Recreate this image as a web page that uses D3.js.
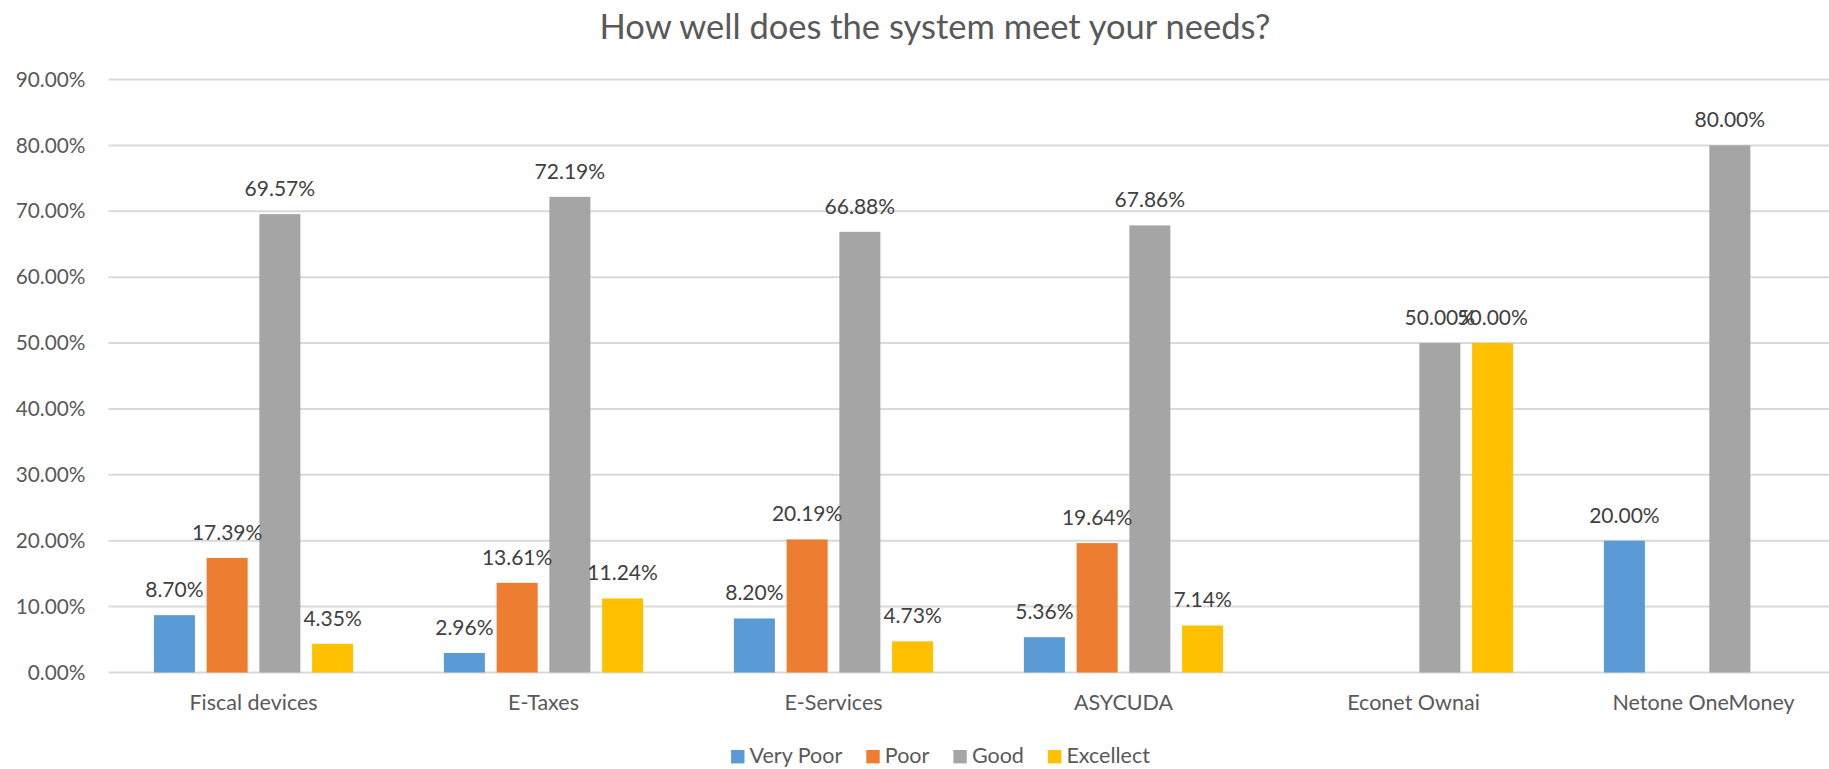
<!DOCTYPE html>
<html>
<head>
<meta charset="utf-8">
<script src="https://cdn.jsdelivr.net/npm/d3@7"></script>
<style>
  html, body { margin: 0; padding: 0; background: #ffffff; }
  svg { display: block; font-family: Lato, "Open Sans", sans-serif; }
</style>
</head>
<body>
<svg id="chart" width="1829" height="769"></svg>
<script>
// ---- data ----
const title = "How well does the system meet your needs?";
const categories = ["Fiscal devices", "E-Taxes", "E-Services", "ASYCUDA", "Econet Ownai", "Netone OneMoney"];
const seriesNames = ["Very Poor", "Poor", "Good", "Excellect"];
const veryPoor  = [8.70, 2.96, 8.20, 5.36, null, 20.00];
const poor      = [17.39, 13.61, 20.19, 19.64, null, null];
const good      = [69.57, 72.19, 66.88, 67.86, 50.00, 80.00];
const excellent = [4.35, 11.24, 4.73, 7.14, 50.00, null];
const yTicks    = [0, 10, 20, 30, 40, 50, 60, 70, 80, 90];
const colors    = ["#5B9BD5", "#ED7D31", "#A5A5A5", "#FFC000"];

const seriesValues = [veryPoor, poor, good, excellent];

// ---- layout ----
const W = 1829, H = 769;
const plot = { left: 108.5, top: 79.5, bottom: 672.5, catWidth: 290 };

const svg = d3.select("#chart");

const y = d3.scaleLinear().domain([0, 90]).range([plot.bottom, plot.top]);
const x0 = d3.scaleBand().domain(categories)
  .range([plot.left, plot.left + plot.catWidth * categories.length])
  .paddingInner(0).paddingOuter(0);
const groupW = x0.bandwidth() * 0.687;
const x1 = d3.scaleBand().domain(seriesNames)
  .range([0, groupW]).paddingInner(0.222).paddingOuter(0);
const groupOffset = (x0.bandwidth() - groupW) / 2;

// title
svg.append("text")
  .attr("x", 935).attr("y", 39)
  .attr("text-anchor", "middle")
  .attr("fill", "#595959")
  .style("font-size", "34.5px")
  .text(title);

// gridlines
const grid = svg.append("g").attr("class", "grid");
grid.selectAll("line").data(yTicks).join("line")
  .attr("x1", plot.left).attr("x2", W)
  .attr("y1", d => y(d)).attr("y2", d => y(d))
  .attr("stroke", "#D9D9D9").attr("stroke-width", 2);

// y axis labels
const yAxis = d3.axisLeft(y).tickValues(yTicks)
  .tickFormat(d => d.toFixed(2) + "%").tickSize(0).tickPadding(23);
const gy = svg.append("g").attr("transform", `translate(${plot.left},0)`).call(yAxis);
gy.select(".domain").remove();
gy.selectAll("text").attr("fill", "#595959").style("font-size", "20.8px")
  .style("font-family", "Lato, 'Open Sans', sans-serif");

// bars
const rows = [];
seriesValues.forEach((vals, si) => {
  vals.forEach((v, ci) => {
    if (v !== null) rows.push({ s: seriesNames[si], si, c: categories[ci], v });
  });
});

const barsG = svg.append("g");
barsG.selectAll("rect").data(rows).join("rect")
  .attr("x", d => x0(d.c) + groupOffset + x1(d.s))
  .attr("width", x1.bandwidth())
  .attr("y", d => y(d.v))
  .attr("height", d => y(0) - y(d.v))
  .attr("fill", d => colors[d.si]);

// data labels
barsG.selectAll("text").data(rows).join("text")
  .attr("x", d => x0(d.c) + groupOffset + x1(d.s) + x1.bandwidth() / 2)
  .attr("y", d => y(d.v) - 18)
  .attr("text-anchor", "middle")
  .attr("fill", "#404040")
  .style("font-size", "21px")
  .text(d => d.v.toFixed(2) + "%");

// category axis labels
const xAxis = d3.axisBottom(x0).tickSize(0).tickPadding(0);
const gx = svg.append("g").attr("transform", `translate(0,${plot.bottom})`).call(xAxis);
gx.select(".domain").remove();
gx.selectAll("text").attr("fill", "#595959").style("font-size", "21.5px")
  .style("font-family", "Lato, 'Open Sans', sans-serif")
  .attr("dy", null).attr("y", 37.5);

// legend
const legend = svg.append("g");
const items = legend.selectAll("g").data(seriesNames).join("g");
items.append("rect").attr("width", 13.4).attr("height", 13.4)
  .attr("y", 750).attr("fill", (d, i) => colors[i]);
items.append("text").attr("x", 18.5).attr("y", 763.3)
  .attr("fill", "#595959").style("font-size", "21.5px").text(d => d);
const widths = [];
items.each(function () {
  const tw = d3.select(this).select("text").node().getComputedTextLength();
  widths.push(18.5 + tw);
});
const gap = 24;
const total = d3.sum(widths) + gap * (widths.length - 1);
let start = 940.5 - total / 2;
items.attr("transform", (d, i) => {
  const t = `translate(${start},0)`;
  start += widths[i] + gap;
  return t;
});
</script>
</body>
</html>
